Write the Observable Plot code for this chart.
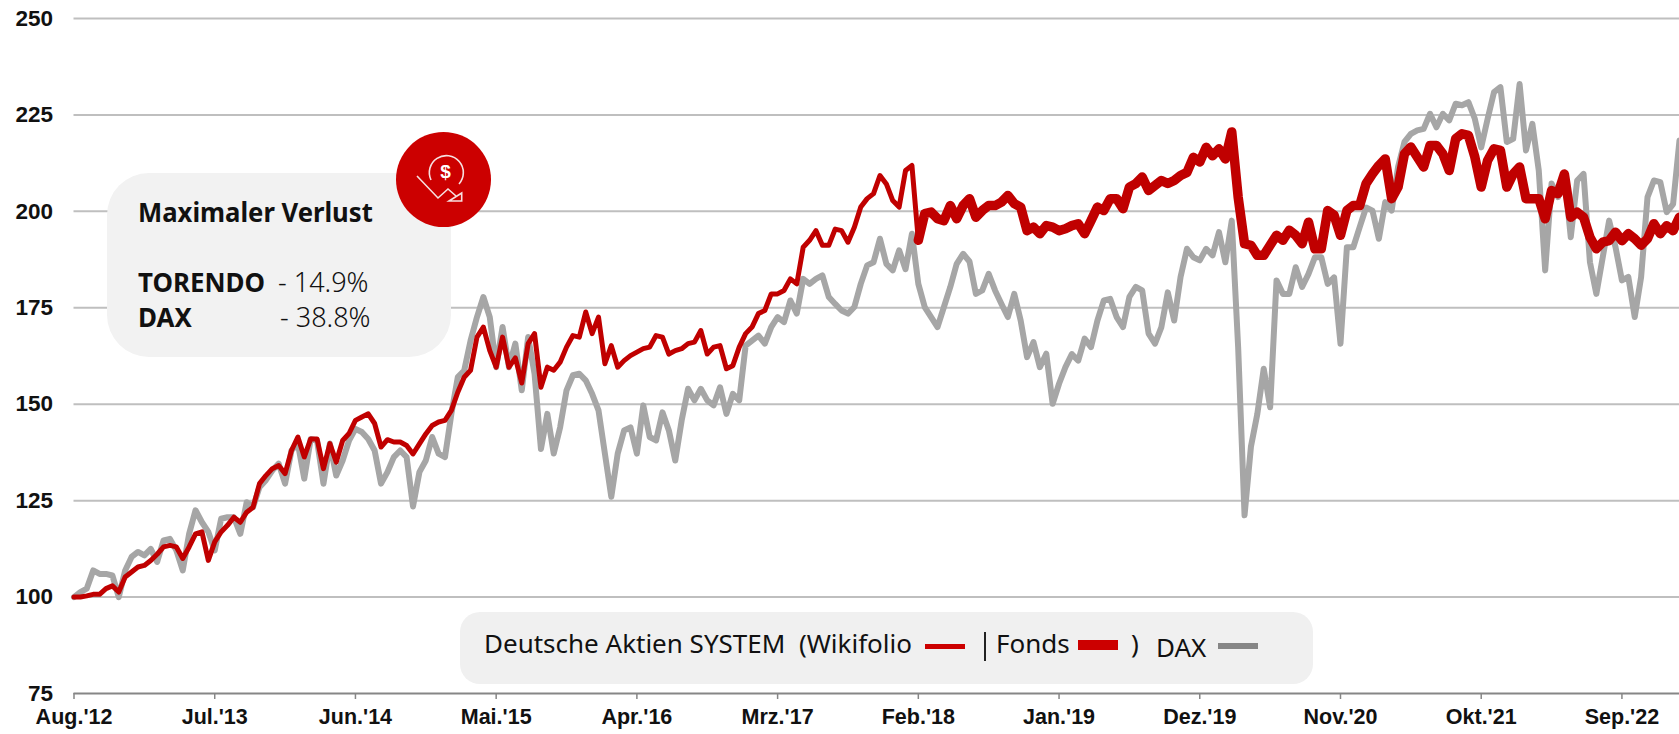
<!DOCTYPE html>
<html lang="de">
<head>
<meta charset="utf-8">
<script src="https://cdn.jsdelivr.net/npm/d3@7"></script>
<script src="https://cdn.jsdelivr.net/npm/@observablehq/plot@0.6"></script>
<style>
html,body{margin:0;padding:0;background:#fff;width:1679px;height:734px;overflow:hidden}
#wrap{position:relative;width:1679px;height:734px}
#wrap svg{display:block}
.ov{position:absolute;white-space:pre;color:#111;font-family:"Noto Sans","Lato",sans-serif;line-height:1;transform-origin:0 0}
.box{position:absolute;background:#f2f2f2}
.sw{position:absolute}
</style>
</head>
<body>
<div id="wrap"></div>
<script>
// Half-month samples from Aug 2012, index value = months * 2
const monthsPerSample = 0.5;
const fondsStartIndex = 132;

const wikifolio = [
  100,100,100.3,100.7,100.7,102.2,102.9,101.3,105.2,106.5,107.8,108.2,109.5,111.1,113,113.4,113,110,113,116.4,
  116.9,109.5,114.3,116.9,118.6,120.7,119.4,122,123.3,129.4,131.5,133.3,134.1,132,138,141.5,136.3,141,141,133.3,
  139.8,135,140.6,142.4,145.8,146.7,147.5,145,138.9,140.8,140.2,140.2,
  139.3,137.1,139.7,142.3,144.5,145.4,145.8,148.4,153.1,157,158.8,167.4,170,163.9,159.6,167.4,159.6,162,155.5,165.7,
  168.3,154.4,159.6,158.8,160.9,164.8,167.8,167.4,173.9,168.3,172.6,160.5,165.2,159.6,161.3,162.6,163.5,164.4,164.8,167.8,
  167.4,163,163.9,164.4,165.7,166.1,169.1,163,164.8,165.2,159.2,
  160,164.8,168.3,170,173.5,174.3,178.6,178.6,179.5,182.5,181.2,190.7,192.5,195,191.2,191.2,195.4,195,192,195.9,
  201.1,203.3,204.6,209.3,207.1,202.8,201.1,210.6,211.9,192.5
];
const fonds = [
  192.5,199.4,199.8,198.1,197.6,201.5,198.1,201.5,203.3,198.5,200.2,201.5,201.5,202.4,204.1,202,201.1,195,195.9,194.2,196.3,195.9,195,
  195.5,196.3,196.8,194.2,197.6,201.1,200.2,203.3,203.3,200.7,206.3,207.2,208.9,205.4,206.7,208,207.2,208,209.3,210.1,
  214,212.8,216.6,214.4,216.2,213.6,220.6,203.7,191.6,191.2,188.6,188.6,191.2,193.8,192.5,195.1,193.8,191.6,197.2,190.3,
  190.3,200.2,199,193.8,200.2,201.5,201.5,207.2,
  209.7,211.9,213.6,203.3,206.3,214.9,216.7,214.1,211.5,217.1,217.1,214.9,210.6,218.8,220.1,219.7,214.1,206.3,213.2,216.2,
  215.8,206.3,209.7,211.5,203.3,203.3,203.3,198.1,205.4,204.6,209.7,198.5,199.8,198.5,193.3,190.3,192,192.4,194.6,192.4,
  194.2,192.9,191.2,192.9,196.8,194.2,196.3,195,198.5
];
const dax = [
  100,101.3,102.2,106.9,106,106,105.6,100,106.9,110.4,111.7,110.8,112.5,109.1,114.7,115.1,112.1,106.9,116.4,122.5,
  119.4,116.9,112.1,120.3,120.7,120.7,116.4,124.6,123.3,128.5,130.3,132.8,134.6,129.4,138,139.8,130.7,141,140.6,129.4,
  139.8,131.5,135.4,140.6,143.6,142.8,141,138,129.4,132.4,136.3,138,
  136.3,123.5,132.4,135.4,141.5,137.2,136.3,147.5,157,158.7,166.5,172.6,177.8,172.6,159.6,170,159.6,165.7,153.6,167.4,
  157.9,138.4,147.5,137.2,144,153.6,157.5,157.9,156.2,152.7,148.4,137.2,126,137.2,143.2,144,137.2,149.7,141.5,140.6,
  147.9,143.2,135.4,145.8,154,151,154,151,149.7,154.4,147.5,
  152.7,151,165.2,166.5,167.8,165.7,170,172.6,171.3,176.9,173.5,182.5,181.2,182.5,183.4,177.8,176,174.3,173.5,175.2,
  181.2,186,186.8,192.9,186.4,184.7,189.9,185,194.2,181.2,175.2,172.6,170,175.2,180.4,186.4,189,187,178.6,179.5,
  183.8,179.5,176,172.6,178.6,171.7,162.2,166.1,159.6,163.1,150.1,155.3,
  159.6,163,161.3,167,164.8,171.7,176.9,177.3,172.6,170,177.8,180.4,179.5,168.3,165.7,170,179,171.7,183,190.3,
  188.1,187.3,190.3,188.6,194.6,186.8,197.6,164.8,121.2,139,147.5,159.2,149.2,182.1,178.6,178.6,185.5,180.4,183.8,188.1,
  188.1,181.2,182.9,165.7,190.7,190.7,195.9,201,
  200.2,192.9,202.4,200.2,211.5,218,220.1,221,221.4,225.3,221.8,225.3,223.6,227.9,227.5,228.3,224,216.6,224,230.9,
  232.2,218,218.8,233,215.8,222.7,210.6,184.7,207.2,203.7,209.7,193.3,208,209.7,186.8,178.6,188.1,197.6,190.7,182.1,
  183,172.6,183,203.7,208,207.6,199.8,201.9,218.4
];

const yTicks = [75,100,125,150,175,200,225,250];
const xTickMonths = [0,11,22,33,44,55,66,77,88,99,110,121];
const xTickLabels = ["Aug.'12","Jul.'13","Jun.'14","Mai.'15","Apr.'16","Mrz.'17","Feb.'18","Jan.'19","Dez.'19","Nov.'20","Okt.'21","Sep.'22"];

const RED_LINE = "#c00000", RED = "#cc0000", GREY = "#a6a6a6", AXIS = "#868686", GRID = "#bfbfbf";

const chart = Plot.plot({
  width: 1679, height: 734,
  marginTop: 18, marginBottom: 41, marginLeft: 73.5, marginRight: 0,
  style: {fontFamily: '"Liberation Sans",Arial,sans-serif', background: "#fff", color: "#111", overflow: "visible"},
  x: {type: "linear", domain: [0, 125.5]},
  y: {type: "linear", domain: [75, 250]},
  marks: [
    Plot.ruleY(yTicks.slice(1), {stroke: GRID, strokeWidth: 2}),
    Plot.ruleY([75], {stroke: AXIS, strokeWidth: 2}),
    Plot.axisY({ticks: yTicks, tickSize: 0, tickPadding: 21, fontSize: 22.5, fontWeight: 700, label: null, tickFormat: d => String(d)}),
    Plot.axisX({ticks: xTickMonths, tickSize: 6, tickPadding: 9, stroke: AXIS, strokeWidth: 1.5, fontSize: 21.5, fontWeight: 700, label: null,
      tickFormat: d => xTickLabels[xTickMonths.indexOf(d)], textStroke: "none", fill: "#111"}),
    Plot.line(dax, {x: (d, i) => i * monthsPerSample, y: d => d, stroke: GREY, strokeWidth: 6, strokeLinejoin: "round", strokeLinecap: "round"}),
    Plot.line(wikifolio, {x: (d, i) => i * monthsPerSample, y: d => d, stroke: RED_LINE, strokeWidth: 5, strokeLinejoin: "round", strokeLinecap: "round"}),
    Plot.line(fonds, {x: (d, i) => (i + fondsStartIndex) * monthsPerSample, y: d => d, stroke: RED_LINE, strokeWidth: 9.5, strokeLinejoin: "round", strokeLinecap: "round"})
  ]
});
const wrap = document.getElementById("wrap");
wrap.appendChild(chart);

function el(cls, css, text) {
  const d = document.createElement("div");
  d.className = cls;
  d.style.cssText = css;
  if (text !== undefined) d.textContent = text;
  wrap.appendChild(d);
  return d;
}
// Info card
el("box", "left:107px;top:173px;width:344px;height:184px;border-radius:42px");
const cardCircle = el("sw", `left:395.5px;top:131.5px;width:95px;height:95px;border-radius:50%;background:${RED}`);
cardCircle.innerHTML = `<svg width="95" height="95" viewBox="0 0 95 95" fill="none" stroke="#f6e0e0" stroke-width="1.6" style="position:absolute;left:0;top:0">
<path d="M35 48 A17 17 0 1 1 63 52"/><path d="M21 44 L42 66 L52 57 L60 64"/><path d="M53 69 H65.7 V61 Z"/></svg>
<div style="position:absolute;left:44.7px;top:30px;font:700 19px/1 'Liberation Sans',sans-serif;color:#fff">$</div>`;
el("ov", "left:138px;top:198px;font-size:27px;font-weight:700;transform:scaleX(.95)", "Maximaler Verlust");
el("ov", "left:138px;top:268px;font-size:27px;font-weight:700;transform:scaleX(.96)", "TORENDO");
el("ov", "left:278px;top:268px;font-size:27px;font-weight:300", "- 14.9%");
el("ov", "left:138px;top:303px;font-size:27px;font-weight:700;transform:scaleX(.96)", "DAX");
el("ov", "left:280px;top:303px;font-size:27px;font-weight:300", "- 38.8%");

// Legend
el("box", "left:460px;top:612px;width:853px;height:72px;border-radius:20px;background:#f0f0f0");
el("ov", "left:484px;top:630px;font-size:26px", "Deutsche Aktien SYSTEM  (Wikifolio");
el("sw", `left:925px;top:644px;width:40px;height:5px;background:${RED}`);
el("sw", "left:984px;top:632px;width:1.5px;height:29px;background:#222");
el("ov", "left:996px;top:630px;font-size:26px", "Fonds");
el("sw", `left:1078px;top:640px;width:40px;height:10px;background:${RED}`);
el("ov", "left:1131px;top:630px;font-size:26px", ")");
el("ov", "left:1156px;top:634px;font-size:26px", "DAX");
el("sw", `left:1218px;top:643px;width:40px;height:6px;background:${AXIS}`);
</script>
</body>
</html>
